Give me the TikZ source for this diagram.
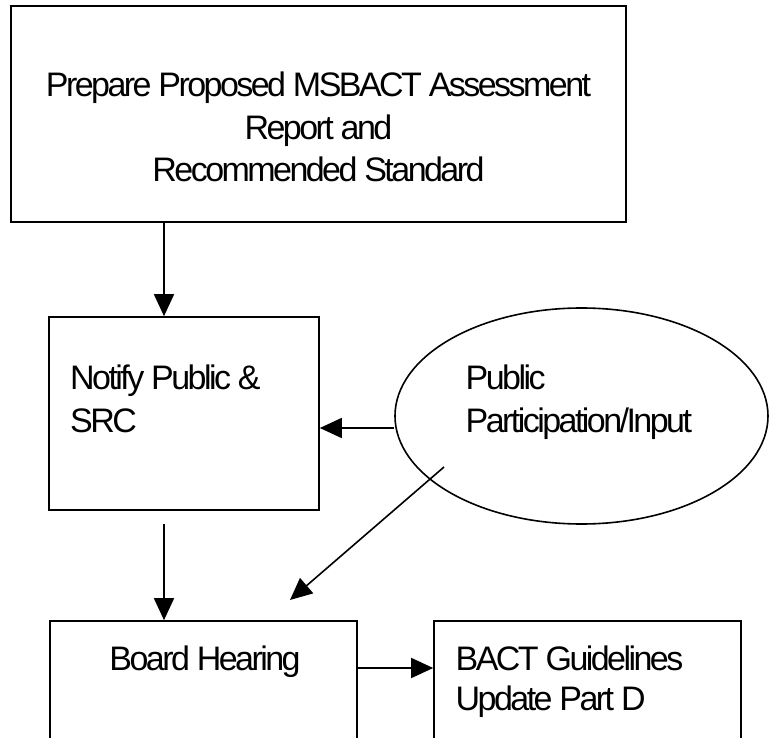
\documentclass[tikz,border=0pt]{standalone}
\usepackage{fontspec}
\setmainfont{Liberation Sans}[LetterSpace=-7.5]
\usetikzlibrary{arrows.meta,shapes.geometric}

\tikzset{
  box/.style={draw, line width=1.6pt, rectangle, inner sep=0pt},
  bubble/.style={draw, line width=1.6pt, ellipse, inner sep=0pt},
  txt/.style={inner sep=0pt, font=\fontsize{34}{42.5}\selectfont},
  conn/.style={line width=1.6pt, -{Triangle[length=22pt,width=20pt]}},
}

\begin{document}
\begin{tikzpicture}[x=1pt, y=-1pt]
  \clip (0,0) rectangle (769,738);
  \fill[white] (0,0) rectangle (769,738);

  % boxes and the ellipse
  \node[box, minimum width=615pt, minimum height=216pt] (prep) at (318.5,114) {};
  \node[box, minimum width=270pt, minimum height=193pt] (notify) at (184,413.5) {};
  \node[bubble, minimum width=373pt, minimum height=216pt] (pub) at (581.5,416) {};
  \node[box, minimum width=307pt, minimum height=160pt] (board) at (203.5,701) {};
  \node[box, minimum width=307pt, minimum height=160pt] (bact) at (587.5,701) {};

  % texts (multi-line nodes are anchored on the baseline of their last line)
  \node[txt, anchor=base, align=center] (preptext) at (318.5,182)
    {Prepare Proposed MSBACT Assessment\\Report and\\Recommended Standard};
  \node[txt, anchor=base west, align=left] (notifytext) at (70,432)
    {Notify Public \&\\SRC};
  \node[txt, anchor=base west, align=left] (pubtext) at (465.5,432)
    {Public\\Participation/Input};
  \node[txt, anchor=base] (boardtext) at (205,670) {Board Hearing};
  \node[txt, anchor=base west, align=left, font=\fontsize{34}{40}\selectfont]
    (bacttext) at (455.5,710) {BACT Guidelines\\Update Part D};

  % connectors
  \coordinate (col) at (164,0);
  \coordinate (row) at (0,428);
  \coordinate (row2) at (0,668);
  \coordinate (d1) at (444,467);
  \coordinate (d2) at (290,600);

  \draw[conn] (prep.south -| col) -- (notify.north -| col);
  \draw[conn] (pub.west |- row) -- (notify.east |- row);
  \draw[conn] ([yshift=-13pt]notify.south -| col) -- (board.north -| col);
  \draw[conn] (d1) -- (d2);
  \draw[conn] (board.east |- row2) -- (bact.west |- row2);
\end{tikzpicture}
\end{document}
